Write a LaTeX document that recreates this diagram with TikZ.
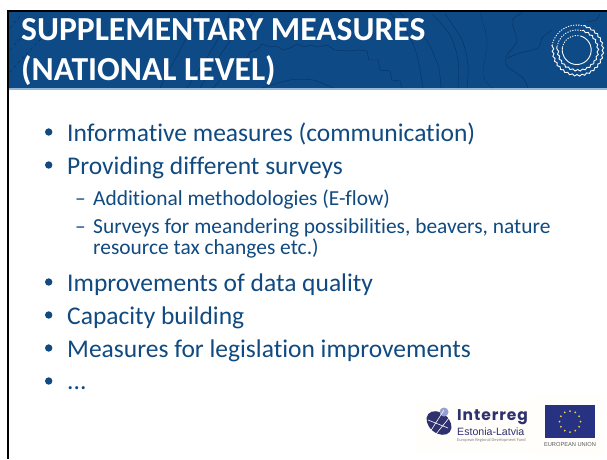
\documentclass[tikz,border=0pt]{standalone}
\usepackage{fontspec}
\setmainfont{Carlito}[Ligatures={NoCommon}]
\newfontfamily\liber{Liberation Sans}
\newfontfamily\pop[LetterSpace=6]{Poppins}
\usetikzlibrary{decorations.pathmorphing}
\definecolor{hdr}{RGB}{14,74,134}
\definecolor{hdrline}{RGB}{8,50,100}
\definecolor{bodyblue}{RGB}{16,74,128}
\definecolor{rulelt}{RGB}{150,185,215}
\definecolor{logoind}{RGB}{46,49,110}
\definecolor{logolt}{RGB}{150,160,210}
\definecolor{eublue}{RGB}{40,50,130}
\definecolor{star}{RGB}{240,215,60}
\definecolor{cream}{RGB}{255,254,251}
\tikzset{
  x=1pt,y=-1pt,
  lvlone/.style={anchor=base west,inner sep=0,text=bodyblue,font=\fontsize{25.5}{25.5}\selectfont},
  lvltwo/.style={anchor=base west,inner sep=0,text=bodyblue,font=\fontsize{21.4}{21.4}\selectfont},
  titletext/.style={anchor=base west,inner sep=0,text=white,font=\bfseries\fontsize{33.6}{33.6}\selectfont},
  contour/.style={draw=hdrline,line width=0.4pt},
  ringl/.style={draw=white,line width=0.9pt},
  ringdot/.style={draw=white,line width=0.9pt,dash pattern=on 1.2pt off 1.4pt},
  ringwav/.style={draw=white,line width=0.9pt,decorate,decoration={snake,amplitude=0.8,segment length=5}}
}
\begin{document}
\begin{tikzpicture}
\useasboundingbox (0,0) rectangle (607,459);
\fill[white] (0,0) rectangle (607,459);
\fill[hdr] (8,11) rectangle (607,88.5);
\draw[rulelt,line width=1.2pt] (8,89) -- (607,89);
\draw[black,line width=2.4pt] (7,11.2) -- (607,11.2);
\draw[black,line width=2.2pt] (8.3,10) -- (8.3,459);
% contour lines
\draw[contour,dashed] plot[smooth] coordinates {(10,28) (16,21) (22,14)};
\draw[contour,dashed] plot[smooth] coordinates {(10,50) (26,32) (43,14)};
\draw[contour,dashed] plot[smooth] coordinates {(10,72) (40,40) (70,14)};
\draw[contour] plot[smooth] coordinates {(160,88) (180,50) (200,13)};
\draw[contour] plot[smooth] coordinates {(187,88) (217,41) (230,13)};
\draw[contour] plot[smooth] coordinates {(200,88) (227,45) (253,13)};
\draw[contour] plot[smooth] coordinates {(213,88) (230,70) (245,58)};
\draw[contour] (245,61) -- (250,52) -- (257,50) -- (262,44) -- (270,47) -- (277,46) -- (283,50) -- (290,48) -- (297,44) -- (304,47) -- (310,45) -- (318,47) -- (327,45) -- (335,50) -- (350,51) -- (358,50) -- (367,51) -- (369,60) -- (378,60) -- (380,70) -- (390,71) -- (392,80) -- (400,81) -- (402,88);
\draw[contour] plot[smooth] coordinates {(262,88) (290,80) (313,80) (333,88)};
\draw[contour] plot[smooth] coordinates {(390,13) (408,35) (417,55) (423,88)};
\draw[contour] plot[smooth] coordinates {(400,13) (425,38) (438,65) (441,88)};
\draw[contour] plot[smooth] coordinates {(433,15) (450,35) (458,60) (458,88)};
\draw[contour] plot[smooth] coordinates {(445,14) (462,40) (468,65) (467,88)};
\draw[contour,dash pattern=on 1.5pt off 1.2pt] plot[smooth] coordinates {(480,13) (487,41) (483,75) (492,88)};
\draw[contour] plot[smooth] coordinates {(522,13) (512,21) (517,41) (507,55) (507,66) (523,78) (528,88)};
\draw[contour] plot[smooth] coordinates {(507,58) (520,53) (538,48) (542,38) (552,30)};
\draw[contour] plot[smooth] coordinates {(585,22) (596,20) (600,14)};
% rings (angles run clockwise on the page)
\foreach \r in {14.5,20,25}{
  \draw[ringdot] (576.7,50) ++(190:\r) arc[start angle=190,end angle=285,radius=\r];
}
\draw[ringl] (576.7,50) ++(285:14.5) arc[start angle=285,end angle=550,radius=14.5];
\draw[ringwav] (576.7,50) ++(285:20) arc[start angle=285,end angle=550,radius=20];
\draw[ringwav] (576.7,50) ++(285:25) arc[start angle=285,end angle=550,radius=25];
% title
\node[titletext] (t1) at (21,40) {SUPPLEMENTARY MEASURES};
\node[titletext] (t2) at (21,80) {(NATIONAL LEVEL)};
% bullets
\node[lvlone] (b1) at (67,141) {Informative measures (communication)};
\node[lvlone] (b2) at (67,174) {Providing different surveys};
\node[lvltwo] (c1) at (93,205) {Additional methodologies (E-flow)};
\node[lvltwo] (c2) at (93,233.5) {Surveys for meandering possibilities, beavers, nature};
\node[lvltwo] (c2b) at (93,254) {resource tax changes etc.)};
\node[lvlone] (b3) at (67,291) {Improvements of data quality};
\node[lvlone] (b4) at (67,324) {Capacity building};
\node[lvlone] (b5) at (67,357) {Measures for legislation improvements};
\node[lvlone] (b6) at (67,389) {...};
\foreach \yy in {132,165,282,315,348,381}{\fill[bodyblue] (48.7,\yy) circle (3.7);}
\node[lvltwo] (d1) at (75,205) {–};
\node[lvltwo] (d2) at (75,233.5) {–};
% logos
\fill[cream] (417,402) rectangle (534,452);
\fill[cream] (534,396) rectangle (604,457);
\fill[logoind,rotate around={-40:(439,423)}] (439,423) ellipse (14 and 10);
\fill[logolt] (444,412) circle (4.5);
\draw[white,line width=0.6pt] (430,432) -- (444,410) (436,434) -- (449,418) (428,420) -- (448,428);
\node[anchor=base west,inner sep=0,text=logoind,font=\pop\bfseries\fontsize{15.5}{15.5}\selectfont] (lg1) at (457,420.5) {Interreg};
\node[anchor=base west,inner sep=0,text=logoind,font=\liber\fontsize{10.6}{10.6}\selectfont] (lg2) at (457,435) {Estonia-Latvia};
\node[anchor=base west,inner sep=0,text=gray,font=\fontsize{4.4}{4.4}\selectfont] (lg3) at (457,441) {European Regional Development Fund};
\fill[eublue] (545,405) rectangle (594.5,438);
\foreach \a in {0,30,...,330}{\fill[star] ({570+10.5*cos(\a)},{421.5+10.5*sin(\a)}) circle (1);}
\node[anchor=base,inner sep=0,text=black!65,font=\liber\fontsize{5.7}{5.7}\selectfont] (eu) at (570,446.7) {EUROPEAN UNION};
\end{tikzpicture}
\end{document}
